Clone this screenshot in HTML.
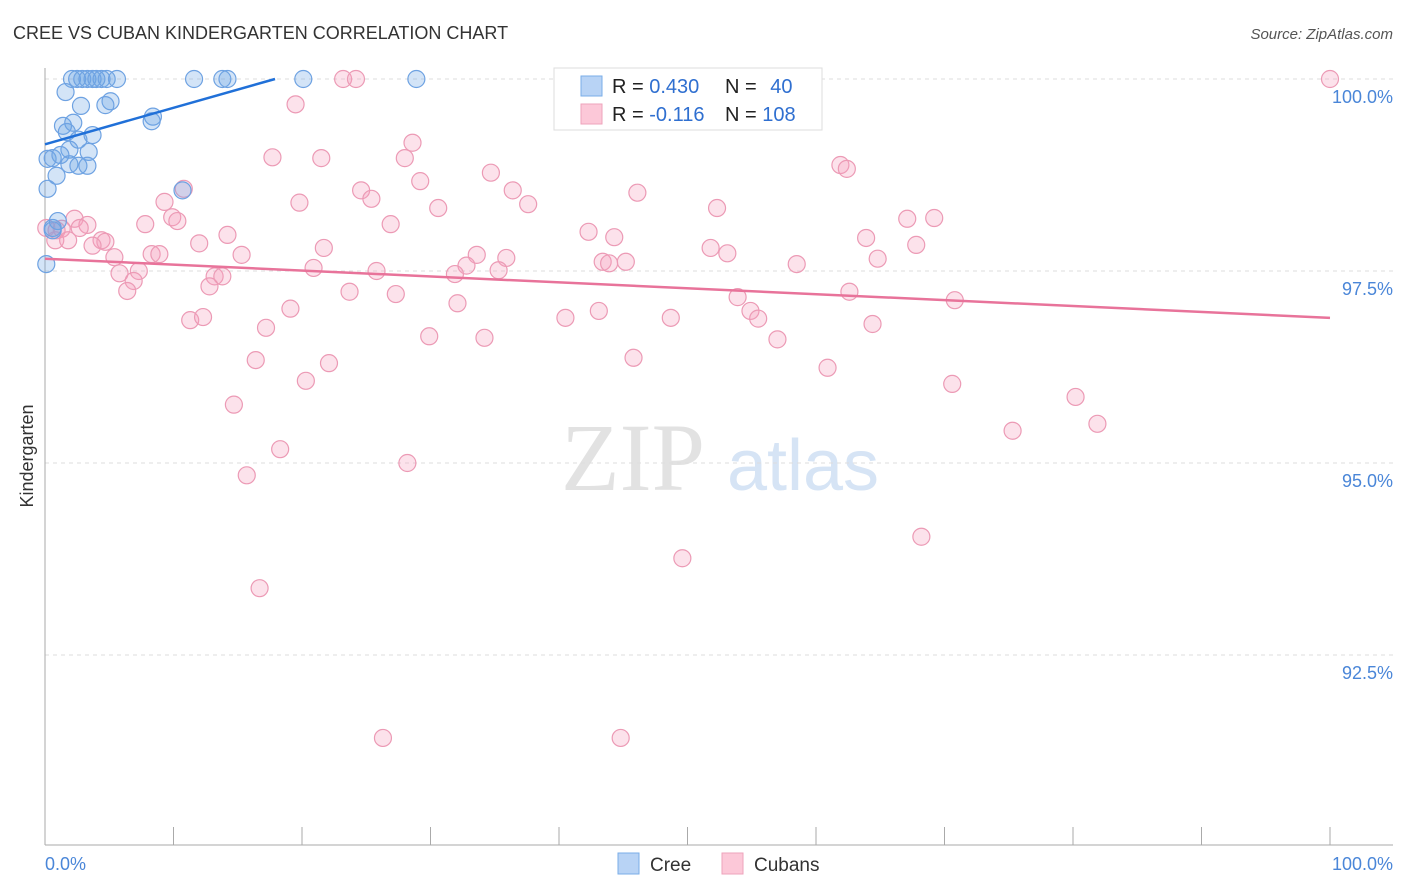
<!DOCTYPE html>
<html><head><meta charset="utf-8"><style>
body{margin:0;background:#fff;font-family:"Liberation Sans",sans-serif;}
svg{display:block}
</style></head><body>
<svg id="chart" width="1406" height="892" viewBox="0 0 1406 892" xmlns="http://www.w3.org/2000/svg">
<text x="13" y="39" font-size="18" fill="#333">CREE VS CUBAN KINDERGARTEN CORRELATION CHART</text>
<text x="1393" y="39" font-size="15" fill="#555" font-style="italic" text-anchor="end">Source: ZipAtlas.com</text>
<g>
<text x="633" y="490" font-size="96" font-family="Liberation Serif,serif" fill="#e2e2e2" text-anchor="middle">ZIP</text>
<text x="803" y="490" font-size="72" fill="#d6e4f5" text-anchor="middle">atlas</text>
</g>
<g id="grid"></g>
<g id="axes"></g>
<g id="pts"></g>
<g id="trend"></g>
<g>
<rect x="554" y="68" width="268" height="62" fill="#fff" stroke="#ddd"/>
<rect x="581" y="76" width="21" height="20" fill="#b8d3f5" stroke="#7aaee8"/>
<rect x="581" y="104" width="21" height="20" fill="#fcc8d8" stroke="#eea3bb"/>
<text x="612" y="93" font-size="20" fill="#222">R = <tspan fill="#2f6fd0">0.430</tspan></text>
<text x="725" y="93" font-size="20" fill="#222">N = <tspan fill="#2f6fd0" dx="8">40</tspan></text>
<text x="612" y="121" font-size="20" fill="#222">R = <tspan fill="#2f6fd0">-0.116</tspan></text>
<text x="725" y="121" font-size="20" fill="#222">N = <tspan fill="#2f6fd0">108</tspan></text>
</g>
<g>
<rect x="618" y="853" width="21" height="21" fill="#b8d3f5" stroke="#7aaee8"/>
<text x="650" y="871" font-size="19" fill="#333">Cree</text>
<rect x="722" y="853" width="21" height="21" fill="#fcc8d8" stroke="#eea3bb"/>
<text x="754" y="871" font-size="19" fill="#333">Cubans</text>
</g>
<text transform="translate(33,456) rotate(-90)" font-size="18" fill="#333" text-anchor="middle">Kindergarten</text>
</svg>
<script>
const yTicks=[100,97.5,95,92.5];
const yTickLabels=["100.0%","97.5%","95.0%","92.5%"];
const xTickCount=[0,10,20,30,40,50,60,70,80,90,100];
const creeX=[2.1,2.5,2.9,3.3,3.7,4.0,4.4,4.8,5.6,11.6,13.8,14.2,20.1,28.9,1.6,2.8,5.1,4.7,8.4,8.3,1.4,2.2,1.7,3.7,2.6,0.2,0.6,1.9,3.4,1.2,1.9,2.6,3.3,0.9,0.2,10.7,1.0,0.6,0.1,0.6];
const creeY=[100,100,100,100,100,100,100,100,100,100,100,100,100,100,99.83,99.65,99.71,99.66,99.51,99.45,99.39,99.43,99.31,99.27,99.21,98.96,98.97,99.08,99.05,99.01,98.89,98.87,98.87,98.74,98.57,98.55,98.15,98.06,97.59,98.03];
const cubX=[100,23.2,24.2,50.7,19.5,28.6,17.7,21.5,28.0,61.9,62.4,34.7,29.2,24.6,10.8,25.4,9.3,19.8,37.6,46.1,36.4,30.6,52.3,67.1,69.2,9.9,7.8,10.3,26.9,2.3,3.3,0.1,0.9,1.3,2.7,0.8,1.8,42.3,44.3,63.9,67.8,14.2,12.0,4.4,4.7,3.7,21.7,51.8,53.1,15.3,8.3,8.9,5.4,33.6,35.9,64.8,58.5,43.4,43.9,45.2,32.8,35.3,20.9,25.8,31.9,5.8,7.3,13.2,13.8,6.9,12.8,6.4,23.7,27.3,53.9,62.6,70.8,32.1,43.1,40.5,48.7,54.9,55.5,11.3,12.3,19.1,17.2,64.4,29.9,34.2,57.0,16.4,22.1,45.8,60.9,20.3,70.6,80.2,14.7,75.3,81.9,18.3,28.2,15.7,49.6,68.2,16.7,26.3,44.8];
const cubY=[100,100,100,100,99.67,99.17,98.98,98.97,98.97,98.88,98.83,98.78,98.67,98.55,98.57,98.44,98.40,98.39,98.37,98.52,98.55,98.32,98.32,98.18,98.19,98.20,98.11,98.15,98.11,98.18,98.10,98.06,98.03,98.05,98.06,97.90,97.90,98.01,97.94,97.93,97.84,97.97,97.86,97.90,97.88,97.83,97.80,97.80,97.73,97.71,97.72,97.72,97.68,97.71,97.67,97.66,97.59,97.62,97.60,97.62,97.57,97.51,97.54,97.50,97.46,97.47,97.50,97.43,97.43,97.37,97.30,97.24,97.23,97.20,97.16,97.23,97.12,97.08,96.98,96.89,96.89,96.98,96.88,96.86,96.90,97.01,96.76,96.81,96.65,96.63,96.61,96.34,96.30,96.37,96.24,96.07,96.03,95.86,95.76,95.42,95.51,95.18,95.00,94.84,93.76,94.04,93.37,91.42,91.42];
const creeTrendX=[0,17.9];
const creeTrendY=[99.15,100];
const cubTrendX=[0,100];
const cubTrendY=[97.66,96.89];
const NS="http://www.w3.org/2000/svg";
const xs=v=>45+v*12.85;
const ys=v=>79+(100-v)*76.8;
function mk(tag,attrs,parent){const e=document.createElementNS(NS,tag);for(const k in attrs)e.setAttribute(k,attrs[k]);parent.appendChild(e);return e;}
const grid=document.getElementById('grid'),axes=document.getElementById('axes'),pts=document.getElementById('pts'),trend=document.getElementById('trend');
yTicks.forEach((t,i)=>{
  const l=mk('line',{x1:45,x2:1393,y1:ys(t),y2:ys(t),stroke:'#ddd','stroke-dasharray':'4,4'},grid);
  
  
  const tx=mk('text',{x:1393,y:ys(t)+24,'font-size':18,fill:'#4a86d8','text-anchor':'end'},axes);
  tx.textContent=yTickLabels[i];
  
  
});
const ya=mk('line',{x1:45,x2:45,y1:68,y2:845,stroke:'#aaa'},axes);


const xa=mk('line',{x1:45,x2:1393,y1:845,y2:845,stroke:'#aaa'},axes);


xTickCount.forEach(t=>{
  const l=mk('line',{x1:xs(t),x2:xs(t),y1:827,y2:845,stroke:'#aaa'},axes);
  
  
});
const xl0=mk('text',{x:45,y:870,'font-size':18,fill:'#4a86d8'},axes);xl0.textContent='0.0%';


const xl1=mk('text',{x:1393,y:870,'font-size':18,fill:'#4a86d8','text-anchor':'end'},axes);xl1.textContent='100.0%';


cubX.forEach((x,i)=>{
  const c=mk('circle',{cx:xs(x),cy:ys(cubY[i]),r:8.5,fill:'rgba(245,160,190,0.3)',stroke:'#ec9ab5','stroke-width':1.2},pts);
  
  
});
creeX.forEach((x,i)=>{
  const c=mk('circle',{cx:xs(x),cy:ys(creeY[i]),r:8.5,fill:'rgba(110,165,230,0.3)',stroke:'#6ea2e2','stroke-width':1.2},pts);
  
  
});
const t1=mk('line',{x1:xs(creeTrendX[0]),y1:ys(creeTrendY[0]),x2:xs(creeTrendX[1]),y2:ys(creeTrendY[1]),stroke:'#2070d8','stroke-width':2.5},trend);


const t2=mk('line',{x1:xs(cubTrendX[0]),y1:ys(cubTrendY[0]),x2:xs(cubTrendX[1]),y2:ys(cubTrendY[1]),stroke:'#e8739a','stroke-width':2.5},trend);


</script>
</body></html>
